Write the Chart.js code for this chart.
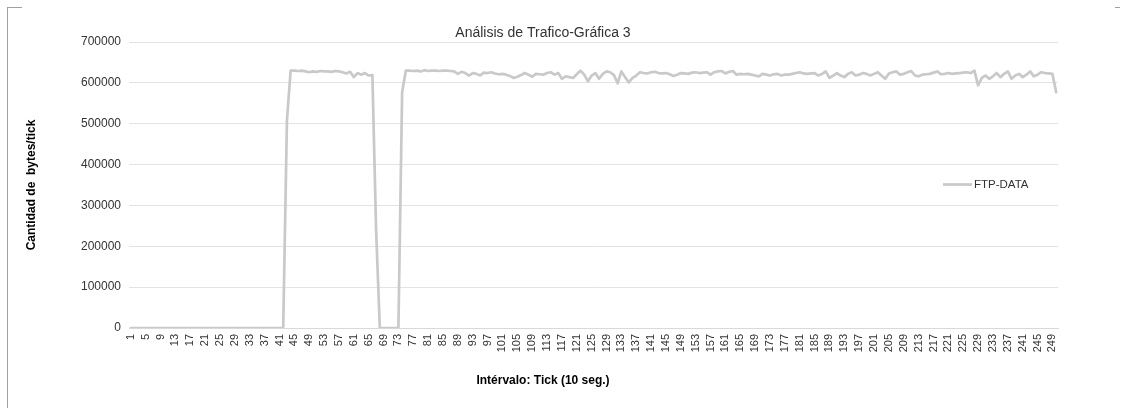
<!DOCTYPE html>
<html>
<head>
<meta charset="utf-8">
<script src="https://cdn.jsdelivr.net/npm/chart.js"></script>
<style>
  body { margin: 0; background: #fff; }
  #wrap { width: 1123px; height: 408px; }
</style>
</head>
<body>
<div id="wrap"><canvas id="chart"></canvas></div>
<script>
// categories: tick 1..250
var ticks = [];
for (var i = 1; i <= 250; i++) ticks.push(String(i));

var seriesName = 'FTP-DATA';

// bytes per tick
var ftpData = [
    // 1-42
    0,0,0,0,0,0,0,0,0,0,
    0,0,0,0,0,0,0,0,0,0,
    0,0,0,0,0,0,0,0,0,0,
    0,0,0,0,0,0,0,0,0,0,
    0,0,
    // 43-67
    508000,630000,630000,629000,630000,628000,626000,628000,
    627000,629000,628000,628000,627000,629000,628000,626000,623000,627000,
    614000,624000,620000,624000,618000,619000,239000,
    // 68-73
    0,0,0,0,0,0,
    // 74-80
    577000,630000,630000,629000,630000,628000,631000,
    // 81-250
    629000,630000,630000,629000,630000,630000,629000,628000,622000,627000,
    624000,618000,624000,622000,618000,625000,624000,626000,623000,621000,
    622000,620000,617000,612000,615000,619000,624000,620000,615000,622000,
    621000,620000,624000,626000,620000,624000,610000,616000,614000,612000,
    621000,630000,620000,604000,618000,624000,610000,622000,628000,626000,
    619000,599000,628000,614000,601000,612000,618000,626000,624000,623000,
    626000,627000,624000,623000,624000,621000,617000,620000,624000,623000,
    622000,625000,626000,624000,625000,626000,620000,626000,628000,629000,
    623000,627000,629000,620000,622000,621000,622000,620000,618000,616000,
    622000,620000,618000,621000,622000,618000,620000,620000,622000,624000,
    626000,623000,622000,623000,624000,618000,622000,628000,612000,618000,
    624000,618000,614000,622000,626000,618000,620000,624000,622000,618000,
    622000,626000,618000,610000,623000,626000,628000,620000,622000,626000,
    629000,618000,616000,620000,621000,622000,625000,628000,621000,622000,
    624000,622000,623000,624000,625000,626000,624000,630000,594000,612000,
    618000,610000,616000,624000,614000,622000,628000,610000,618000,622000,
    614000,620000,628000,616000,620000,626000,624000,623000,622000,577000
];

var yMax = 700000;
var yStep = 100000;

Chart.defaults.font.family = '"Liberation Sans", Arial, sans-serif';

// chart area frame (only partly visible in the original)
var framePlugin = {
    id: 'frame',
    beforeDraw: function (chart) {
        var ctx = chart.ctx;
        ctx.save();
        ctx.fillStyle = '#fff';
        ctx.fillRect(0, 0, chart.width, chart.height);
        ctx.strokeStyle = '#a0a0a0';
        ctx.lineWidth = 1;
        ctx.beginPath();
        ctx.moveTo(7.5, 7);
        ctx.lineTo(7.5, chart.height);
        ctx.moveTo(7, 7.5);
        ctx.lineTo(22, 7.5);
        ctx.moveTo(1115, 7.5);
        ctx.lineTo(1120, 7.5);
        ctx.stroke();
        ctx.restore();
    }
};

// legend sits inside the plot, on the right
var legendPlugin = {
    id: 'insideLegend',
    afterDraw: function (chart) {
        var ds = chart.data.datasets[0];
        var ctx = chart.ctx;
        ctx.save();
        ctx.strokeStyle = ds.borderColor;
        ctx.lineWidth = ds.borderWidth;
        ctx.beginPath();
        ctx.moveTo(943, 184.5);
        ctx.lineTo(972, 184.5);
        ctx.stroke();
        ctx.fillStyle = '#333';
        ctx.font = '11.5px "Liberation Sans", Arial, sans-serif';
        ctx.textBaseline = 'middle';
        ctx.fillText(ds.label, 974, 185);
        ctx.restore();
    }
};

var ctx = document.getElementById('chart').getContext('2d');

var myChart = new Chart(ctx, {
    "type": "line",
    "data": {
        "labels": ticks,
        "datasets": [
            {
                "label": seriesName,
                "data": ftpData,
                "borderColor": "#c9c9c9",
                "borderWidth": 2.7,
                "borderJoinStyle": "round",
                "borderCapStyle": "round",
                "pointRadius": 0,
                "tension": 0,
                "fill": false,
                "yAxisID": "y"
            }
        ]
    },
    "options": {
        "responsive": true,
        "maintainAspectRatio": false,
        "animation": false,
        "layout": {
            "padding": { "left": 0, "right": 37, "top": 0, "bottom": 0 }
        },
        "plugins": {
            "legend": { "display": false },
            "tooltip": { "enabled": false },
            "title": {
                "display": true,
                "text": "Análisis de Trafico-Gráfica 3",
                "color": "#333",
                "font": { "size": 14, "weight": "normal" },
                "padding": { "top": 24.6, "bottom": 0.6 }
            },
            "subtitle": {
                "display": true,
                "position": "bottom",
                "text": "Intérvalo: Tick (10 seg.)",
                "color": "#000",
                "font": { "size": 12, "weight": "bold" },
                "padding": { "top": 0, "bottom": 19.8 }
            }
        },
        "scales": {
            "x": {
                "offset": true,
                "grid": { "display": false, "drawTicks": false },
                "border": { "display": true, "color": "#d9d9d9" },
                "ticks": {
                    "autoSkip": false,
                    "minRotation": 90,
                    "maxRotation": 90,
                    "padding": 6,
                    "color": "#333",
                    "font": { "size": 11 },
                    "callback": function (v, i) {
                        return i % 4 === 0 ? this.getLabelForValue(v) : '';
                    }
                },
                "afterFit": function (s) { s.height = 45.8; }
            },
            "y": {
                "min": 0,
                "max": yMax,
                "grid": { "color": "#e3e3e3", "drawTicks": false },
                "border": { "display": false },
                "ticks": {
                    "stepSize": yStep,
                    "padding": 8,
                    "color": "#333",
                    "font": { "size": 12 },
                    "callback": function (v) { return String(v); }
                },
                "title": {
                    "display": true,
                    "text": "Cantidad de  bytes/tick",
                    "color": "#000",
                    "font": { "size": 12, "weight": "bold" },
                    "padding": { "top": 24, "bottom": 0 }
                },
                "afterFit": function (s) { s.width = 129; }
            },
            "yr": {
                "type": "linear",
                "position": "right",
                "grid": { "display": false, "drawTicks": false },
                "border": { "display": false },
                "ticks": { "display": false },
                "afterFit": function (s) { s.width = 28; }
            }
        }
    },
    "plugins": [framePlugin, legendPlugin]
});
</script>
</body>
</html>
